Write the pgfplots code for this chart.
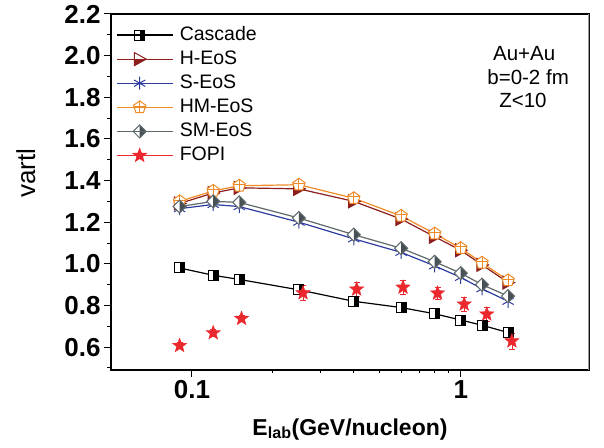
\documentclass[border=0pt]{standalone}
\usepackage{fontspec}
\setmainfont{Liberation Sans}
\usepackage{pgfplots}
\pgfplotsset{compat=1.18}
\definecolor{hcol}{RGB}{140,30,30}
\definecolor{scol}{RGB}{45,60,160}
\definecolor{hmcol}{RGB}{240,140,40}
\definecolor{smcol}{RGB}{95,105,108}
\definecolor{smfill}{RGB}{70,80,85}
\definecolor{fopi}{RGB}{235,40,45}

\pgfdeclareplotmark{halfsq}{%
  \pgfscope\pgfsetfillcolor{white}%
  \pgfpathrectangle{\pgfqpoint{-\pgfplotmarksize}{-\pgfplotmarksize}}{\pgfqpoint{2\pgfplotmarksize}{2\pgfplotmarksize}}\pgfusepath{fill}\endpgfscope
  \pgfpathrectangle{\pgfqpoint{0pt}{-\pgfplotmarksize}}{\pgfqpoint{\pgfplotmarksize}{2\pgfplotmarksize}}\pgfusepath{fill}%
  \pgfpathrectangle{\pgfqpoint{-\pgfplotmarksize}{-\pgfplotmarksize}}{\pgfqpoint{2\pgfplotmarksize}{2\pgfplotmarksize}}\pgfusepath{stroke}%
}
\pgfdeclareplotmark{halftri}{%
  \pgfscope\pgfsetfillcolor{white}%
  \pgfpathmoveto{\pgfqpoint{-0.8\pgfplotmarksize}{\pgfplotmarksize}}%
  \pgfpathlineto{\pgfqpoint{\pgfplotmarksize}{0pt}}%
  \pgfpathlineto{\pgfqpoint{-0.8\pgfplotmarksize}{-\pgfplotmarksize}}%
  \pgfpathclose\pgfusepath{fill}\endpgfscope
  \pgfpathmoveto{\pgfqpoint{-0.8\pgfplotmarksize}{0pt}}%
  \pgfpathlineto{\pgfqpoint{\pgfplotmarksize}{0pt}}%
  \pgfpathlineto{\pgfqpoint{-0.8\pgfplotmarksize}{-\pgfplotmarksize}}%
  \pgfpathclose\pgfusepath{fill}%
  \pgfpathmoveto{\pgfqpoint{-0.8\pgfplotmarksize}{\pgfplotmarksize}}%
  \pgfpathlineto{\pgfqpoint{\pgfplotmarksize}{0pt}}%
  \pgfpathlineto{\pgfqpoint{-0.8\pgfplotmarksize}{-\pgfplotmarksize}}%
  \pgfpathclose\pgfusepath{stroke}%
}
\pgfdeclareplotmark{halfdia}{%
  \pgfscope\pgfsetfillcolor{white}%
  \pgfpathmoveto{\pgfqpoint{0pt}{\pgfplotmarksize}}%
  \pgfpathlineto{\pgfqpoint{\pgfplotmarksize}{0pt}}%
  \pgfpathlineto{\pgfqpoint{0pt}{-\pgfplotmarksize}}%
  \pgfpathlineto{\pgfqpoint{-\pgfplotmarksize}{0pt}}%
  \pgfpathclose\pgfusepath{fill}\endpgfscope
  \pgfpathmoveto{\pgfqpoint{0pt}{\pgfplotmarksize}}%
  \pgfpathlineto{\pgfqpoint{\pgfplotmarksize}{0pt}}%
  \pgfpathlineto{\pgfqpoint{0pt}{-\pgfplotmarksize}}%
  \pgfpathclose\pgfusepath{fill}%
  \pgfpathmoveto{\pgfqpoint{0pt}{\pgfplotmarksize}}%
  \pgfpathlineto{\pgfqpoint{\pgfplotmarksize}{0pt}}%
  \pgfpathlineto{\pgfqpoint{0pt}{-\pgfplotmarksize}}%
  \pgfpathlineto{\pgfqpoint{-\pgfplotmarksize}{0pt}}%
  \pgfpathclose\pgfusepath{stroke}%
}
\pgfdeclareplotmark{pentplus}{%
  \pgfscope\pgfsetfillcolor{white}%
  \pgfpathmoveto{\pgfqpointpolar{90}{\pgfplotmarksize}}%
  \pgfpathlineto{\pgfqpointpolar{162}{\pgfplotmarksize}}%
  \pgfpathlineto{\pgfqpointpolar{234}{\pgfplotmarksize}}%
  \pgfpathlineto{\pgfqpointpolar{306}{\pgfplotmarksize}}%
  \pgfpathlineto{\pgfqpointpolar{18}{\pgfplotmarksize}}%
  \pgfpathclose\pgfusepath{fill,stroke}\endpgfscope
  \pgfpathmoveto{\pgfqpoint{0pt}{-0.8\pgfplotmarksize}}%
  \pgfpathlineto{\pgfqpoint{0pt}{\pgfplotmarksize}}%
  \pgfpathmoveto{\pgfqpoint{-0.95\pgfplotmarksize}{0.2\pgfplotmarksize}}%
  \pgfpathlineto{\pgfqpoint{0.95\pgfplotmarksize}{0.2\pgfplotmarksize}}%
  \pgfusepath{stroke}%
}
\pgfdeclareplotmark{fstar}{%
  \pgfpathmoveto{\pgfqpointpolar{90}{\pgfplotmarksize}}%
  \pgfpathlineto{\pgfqpointpolar{126}{0.42\pgfplotmarksize}}%
  \pgfpathlineto{\pgfqpointpolar{162}{\pgfplotmarksize}}%
  \pgfpathlineto{\pgfqpointpolar{198}{0.42\pgfplotmarksize}}%
  \pgfpathlineto{\pgfqpointpolar{234}{\pgfplotmarksize}}%
  \pgfpathlineto{\pgfqpointpolar{270}{0.42\pgfplotmarksize}}%
  \pgfpathlineto{\pgfqpointpolar{306}{\pgfplotmarksize}}%
  \pgfpathlineto{\pgfqpointpolar{342}{0.42\pgfplotmarksize}}%
  \pgfpathlineto{\pgfqpointpolar{18}{\pgfplotmarksize}}%
  \pgfpathlineto{\pgfqpointpolar{54}{0.42\pgfplotmarksize}}%
  \pgfpathclose\pgfusepath{fill,stroke}%
}

\begin{document}
\begin{tikzpicture}
\begin{semilogxaxis}[
  scale only axis,
  width=478pt, height=356pt,
  xmin=0.05, xmax=3,
  ymin=0.49, ymax=2.2,
  xtick={0.1,1}, xticklabels={0.1,1},
  ytick={0.6,0.8,...,2.2},
  minor ytick={0.5,0.7,...,2.1},
  yticklabel style={/pgf/number format/.cd,fixed,fixed zerofill,precision=1},
  /pgf/number format/assume math mode=true,
  tick label style={font=\fontsize{26}{26}\selectfont\bfseries},
  tick align=outside,
  tick pos=left,
  major tick length=7pt,
  minor tick length=3.5pt,
  every tick/.style={black, line width=1pt},
  axis line style={black, line width=1.2pt},
  xlabel={E\textsubscript{lab}(GeV/nucleon)},
  xlabel style={font=\fontsize{23}{23}\selectfont\bfseries, at={(axis description cs:0.5,-0.183)}, anchor=base},
  ylabel={vartl},
  ylabel style={font=\fontsize{26}{26}\selectfont, at={(axis description cs:-0.178,0.553)}, anchor=center},
  legend style={at={(axis description cs:0.005,0.978)}, anchor=north west, draw=none, fill=none,
    font=\fontsize{19.5}{24}\selectfont, row sep=2.1pt, column sep=4pt,
    nodes={inner sep=2pt, text height=14pt, text depth=4pt}},
  legend cell align=left,
  legend image code/.code={\draw[mark repeat=2,mark phase=2] plot coordinates {(0pt,0pt) (22.5pt,0pt) (45pt,0pt)};
    \path (0pt,0pt) -- (56pt,0pt);},
  every axis plot/.append style={line width=1.2pt},
]
\addplot[black, mark=halfsq, mark size=5pt, mark options={fill=black, line width=1pt}] coordinates {
 (0.09,0.98) (0.12,0.945) (0.15,0.925) (0.25,0.875) (0.4,0.82) (0.6,0.79) (0.8,0.76) (1.0,0.73) (1.2,0.705) (1.5,0.67)};
\addlegendentry{Cascade}
\addplot[hcol, mark=halftri, mark size=6.5pt, mark options={fill=hcol, line width=1pt}] coordinates {
 (0.09,1.29) (0.12,1.34) (0.15,1.365) (0.25,1.36) (0.4,1.30) (0.6,1.215) (0.8,1.13) (1.0,1.065) (1.2,0.995) (1.5,0.91)};
\addlegendentry{H-EoS}
\addplot[scol, mark=asterisk, mark size=6.5pt, mark options={line width=1pt}] coordinates {
 (0.09,1.265) (0.12,1.285) (0.15,1.275) (0.25,1.20) (0.4,1.12) (0.6,1.055) (0.8,0.99) (1.0,0.935) (1.2,0.88) (1.5,0.82)};
\addlegendentry{S-EoS}
\addplot[hmcol, mark=pentplus, mark size=6.5pt, mark options={line width=1pt}] coordinates {
 (0.09,1.30) (0.12,1.35) (0.15,1.375) (0.25,1.38) (0.4,1.315) (0.6,1.23) (0.8,1.145) (1.0,1.075) (1.2,1.005) (1.5,0.92)};
\addlegendentry{HM-EoS}
\addplot[smcol, mark=halfdia, mark size=6.5pt, mark options={fill=smfill, line width=1pt}] coordinates {
 (0.09,1.275) (0.12,1.30) (0.15,1.295) (0.25,1.22) (0.4,1.14) (0.6,1.075) (0.8,1.01) (1.0,0.955) (1.2,0.90) (1.5,0.845)};
\addlegendentry{SM-EoS}
\addplot[fopi, only marks, mark=fstar, mark size=7.5pt, mark options={fill=fopi, line width=0.4pt},
  legend image code/.code={\draw plot coordinates {(22.5pt,0pt)}; \path (0pt,0pt) -- (56pt,0pt);},
  error bars/.cd, y dir=both, y explicit, error bar style={fopi, line width=0.8pt},
  error mark options={rotate=90, mark size=3pt, fopi, line width=0.8pt}]
  coordinates {
 (0.09,0.607) +- (0,0.015)
 (0.12,0.668) +- (0,0.015)
 (0.153,0.737) +- (0,0.015)
 (0.259,0.86) +- (0,0.035)
 (0.41,0.878) +- (0,0.033)
 (0.61,0.887) +- (0,0.035)
 (0.82,0.859) +- (0,0.03)
 (1.03,0.806) +- (0,0.035)
 (1.25,0.758) +- (0,0.035)
 (1.55,0.629) +- (0,0.038)};
\addlegendentry{FOPI}
\draw[gray!80, line width=1.2pt] (rel axis cs:1,0) -- (rel axis cs:1,1);
\node[anchor=west, inner sep=0pt, font=\fontsize{20.5}{20.5}\selectfont] at (rel axis cs:0.799,0.890) {Au+Au};
\node[anchor=west, inner sep=0pt, font=\fontsize{20.5}{20.5}\selectfont] at (rel axis cs:0.787,0.823) {b=0-2 fm};
\node[anchor=west, inner sep=0pt, font=\fontsize{20.5}{20.5}\selectfont] at (rel axis cs:0.812,0.758) {Z<10};
\end{semilogxaxis}
\path (current axis.south west) ++(-111pt,-78pt) coordinate (bbsw);
\path (current axis.north east) ++(15pt,14pt) coordinate (bbne);
\useasboundingbox (bbsw) rectangle (bbne);
\end{tikzpicture}
\end{document}
